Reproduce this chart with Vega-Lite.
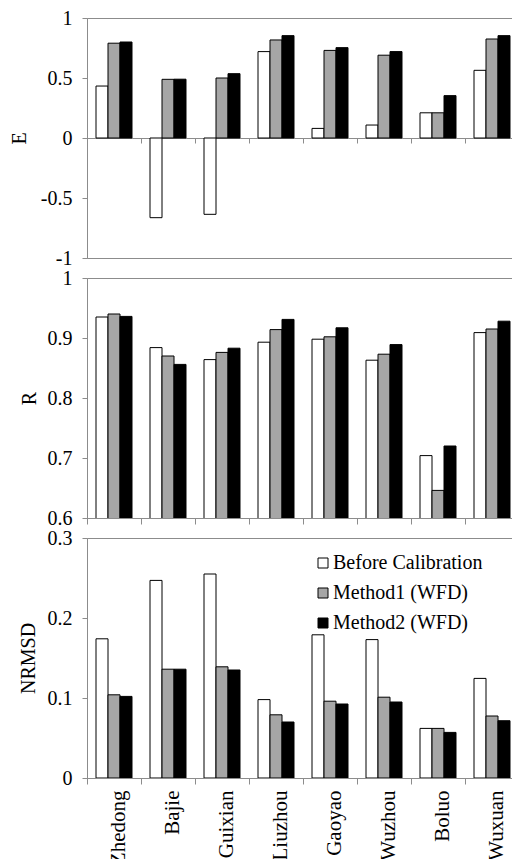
{
  "$schema": "https://vega.github.io/schema/vega-lite/v6.json",
  "padding": {"left": 8, "top": 7, "right": 0, "bottom": 0},
  "background": "white",
  "config": {
    "font": "Liberation Serif, Times New Roman, DejaVu Serif, serif",
    "view": {"stroke": "#8c8c8c", "strokeWidth": 1},
    "axis": {
      "labelFont": "Liberation Serif, Times New Roman, DejaVu Serif, serif", "labelFontSize": 20, "labelColor": "black",
      "titleFont": "Liberation Serif, Times New Roman, DejaVu Serif, serif", "titleFontSize": 20, "titleFontWeight": "normal", "titleColor": "black",
      "domainColor": "#8c8c8c", "tickColor": "#8c8c8c", "grid": false
    },
    "legend": {"labelFont": "Liberation Serif, Times New Roman, DejaVu Serif, serif"}
  },
  "data": {"values": [
    {"site": "Zhedong", "series": "Before Calibration", "E": 0.433, "R": 0.935, "NRMSD": 0.174},
    {"site": "Zhedong", "series": "Method1 (WFD)", "E": 0.79, "R": 0.94, "NRMSD": 0.104},
    {"site": "Zhedong", "series": "Method2 (WFD)", "E": 0.80, "R": 0.936, "NRMSD": 0.102},
    {"site": "Bajie", "series": "Before Calibration", "E": -0.664, "R": 0.884, "NRMSD": 0.247},
    {"site": "Bajie", "series": "Method1 (WFD)", "E": 0.489, "R": 0.870, "NRMSD": 0.136},
    {"site": "Bajie", "series": "Method2 (WFD)", "E": 0.49, "R": 0.856, "NRMSD": 0.136},
    {"site": "Guixian", "series": "Before Calibration", "E": -0.636, "R": 0.864, "NRMSD": 0.255},
    {"site": "Guixian", "series": "Method1 (WFD)", "E": 0.50, "R": 0.876, "NRMSD": 0.139},
    {"site": "Guixian", "series": "Method2 (WFD)", "E": 0.536, "R": 0.883, "NRMSD": 0.135},
    {"site": "Liuzhou", "series": "Before Calibration", "E": 0.72, "R": 0.893, "NRMSD": 0.098},
    {"site": "Liuzhou", "series": "Method1 (WFD)", "E": 0.817, "R": 0.914, "NRMSD": 0.079},
    {"site": "Liuzhou", "series": "Method2 (WFD)", "E": 0.853, "R": 0.931, "NRMSD": 0.070},
    {"site": "Gaoyao", "series": "Before Calibration", "E": 0.08, "R": 0.898, "NRMSD": 0.179},
    {"site": "Gaoyao", "series": "Method1 (WFD)", "E": 0.73, "R": 0.902, "NRMSD": 0.096},
    {"site": "Gaoyao", "series": "Method2 (WFD)", "E": 0.753, "R": 0.917, "NRMSD": 0.0925},
    {"site": "Wuzhou", "series": "Before Calibration", "E": 0.108, "R": 0.863, "NRMSD": 0.173},
    {"site": "Wuzhou", "series": "Method1 (WFD)", "E": 0.69, "R": 0.873, "NRMSD": 0.101},
    {"site": "Wuzhou", "series": "Method2 (WFD)", "E": 0.72, "R": 0.889, "NRMSD": 0.095},
    {"site": "Boluo", "series": "Before Calibration", "E": 0.21, "R": 0.704, "NRMSD": 0.062},
    {"site": "Boluo", "series": "Method1 (WFD)", "E": 0.21, "R": 0.646, "NRMSD": 0.062},
    {"site": "Boluo", "series": "Method2 (WFD)", "E": 0.353, "R": 0.720, "NRMSD": 0.057},
    {"site": "Wuxuan", "series": "Before Calibration", "E": 0.564, "R": 0.909, "NRMSD": 0.1245},
    {"site": "Wuxuan", "series": "Method1 (WFD)", "E": 0.825, "R": 0.915, "NRMSD": 0.0775},
    {"site": "Wuxuan", "series": "Method2 (WFD)", "E": 0.853, "R": 0.928, "NRMSD": 0.0716}
  ]},
  "spacing": 20,
  "bounds": "flush",
  "resolve": {"scale": {"fill": "independent"}, "legend": {"fill": "independent"}},
  "vconcat": [
    {
      "width": 432, "height": 240,
      "mark": {"type": "bar", "stroke": "black", "strokeWidth": 1, "clip": true},
      "encoding": {
        "x": {"field": "site", "type": "nominal", "sort": null, "scale": {"paddingInner": 0, "paddingOuter": 0},
              "axis": {"title": null, "labels": false, "tickBand": "extent", "tickSize": 5, "offset": -120}},
        "xOffset": {"field": "series", "type": "nominal", "sort": null, "scale": {"paddingInner": 0, "paddingOuter": 0.75}},
        "y": {"field": "E", "type": "quantitative", "scale": {"domain": [-1, 1]},
              "axis": {"title": "E", "values": [-1, -0.5, 0, 0.5, 1], "labelExpr": "datum.value < 0 ? '-' + format(-datum.value, '~g') : format(datum.value, '~g')", "tickSize": 5, "labelPadding": 10, "titlePadding": 11}},
        "fill": {"field": "series", "type": "nominal", "sort": null,
                 "scale": {"domain": ["Before Calibration", "Method1 (WFD)", "Method2 (WFD)"], "range": ["#ffffff", "#a6a6a6", "#000000"]},
                 "legend": null}
      }
    },
    {
      "width": 432, "height": 240,
      "mark": {"type": "bar", "stroke": "black", "strokeWidth": 1, "clip": true},
      "encoding": {
        "x": {"field": "site", "type": "nominal", "sort": null, "scale": {"paddingInner": 0, "paddingOuter": 0},
              "axis": {"title": null, "labels": false, "tickBand": "extent", "tickSize": 6}},
        "xOffset": {"field": "series", "type": "nominal", "sort": null, "scale": {"paddingInner": 0, "paddingOuter": 0.75}},
        "y": {"field": "R", "type": "quantitative", "scale": {"domain": [0.6, 1], "zero": false},
              "axis": {"title": "R", "values": [0.6, 0.7, 0.8, 0.9, 1], "labelExpr": "format(datum.value, '~g')", "tickSize": 5, "labelPadding": 10, "titlePadding": 8}},
        "fill": {"field": "series", "type": "nominal", "sort": null,
                 "scale": {"domain": ["Before Calibration", "Method1 (WFD)", "Method2 (WFD)"], "range": ["#ffffff", "#a6a6a6", "#000000"]},
                 "legend": null}
      }
    },
    {
      "width": 432, "height": 240,
      "mark": {"type": "bar", "stroke": "black", "strokeWidth": 1, "clip": true},
      "encoding": {
        "x": {"field": "site", "type": "nominal", "sort": null, "scale": {"paddingInner": 0, "paddingOuter": 0},
              "axis": {"title": null, "labelAngle": -90, "labelFontSize": 21, "tickBand": "extent", "tickSize": 6, "labelPadding": 6, "labelOffset": 4}},
        "xOffset": {"field": "series", "type": "nominal", "sort": null, "scale": {"paddingInner": 0, "paddingOuter": 0.75}},
        "y": {"field": "NRMSD", "type": "quantitative", "scale": {"domain": [0, 0.3]},
              "axis": {"title": "NRMSD", "values": [0, 0.1, 0.2, 0.3], "labelExpr": "format(datum.value, '~g')", "tickSize": 5, "labelPadding": 10, "titlePadding": 9}},
        "fill": {"field": "series", "type": "nominal", "sort": null,
                 "scale": {"domain": ["Before Calibration", "Method1 (WFD)", "Method2 (WFD)"], "range": ["#ffffff", "#a6a6a6", "#000000"]},
                 "legend": {"orient": "none", "legendX": 226, "legendY": 15, "title": null, "symbolType": "square", "symbolSize": 100,
                            "symbolStrokeColor": "black", "symbolStrokeWidth": 1, "labelFont": "Liberation Serif, Times New Roman, DejaVu Serif, serif", "labelFontSize": 20,
                            "labelColor": "black", "labelOffset": 0, "rowPadding": 10, "padding": 0, "labelLimit": 300}}
      }
    }
  ]
}
